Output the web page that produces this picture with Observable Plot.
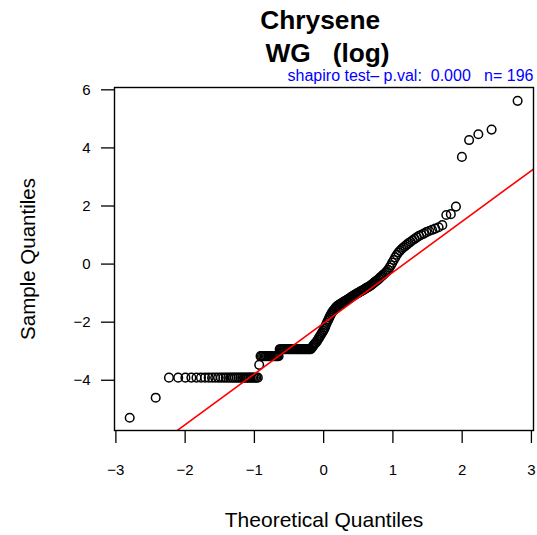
<!DOCTYPE html>
<html><head><meta charset="utf-8">
<script src="https://cdn.jsdelivr.net/npm/d3@7"></script>
<script src="https://cdn.jsdelivr.net/npm/@observablehq/plot@0.6"></script>
<style>
body{margin:0;background:#fff;}
svg{font-family:"Liberation Sans",Arial,Helvetica,sans-serif;}
</style>
</head><body><div id="chart"></div>
<script>
// ---- text ----
const titleLine1 = "Chrysene";
const titleLine2 = "WG\u00a0\u00a0\u00a0(log)";
const subtitle = "shapiro test\u2013 p.val:\u00a0\u00a00.000\u00a0\u00a0\u00a0n=\u00a0196";
const xLabel = "Theoretical Quantiles";
const yLabel = "Sample Quantiles";
const xTicks = [-3, -2, -1, 0, 1, 2, 3];
const yTicks = [-4, -2, 0, 2, 4, 6];

// ---- sorted sample values (log concentration), n = 196 ----
const sampleValues = [
  -5.29, -4.60,
  -3.91, -3.91, -3.91, -3.91, -3.91, -3.91, -3.91, -3.91, -3.91, -3.91, -3.91, -3.91, -3.91, -3.91, -3.91, -3.91,
  -3.91, -3.91, -3.91, -3.91, -3.91, -3.91, -3.91, -3.91, -3.91, -3.91, -3.91, -3.91, -3.91, -3.91, -3.91, -3.91,
  -3.47,
  -3.17, -3.17, -3.17, -3.17, -3.17, -3.17, -3.17, -3.17, -3.17, -3.17, -3.17, -3.17, -3.17, -3.17, -3.17, -3.17,
  -2.93, -2.93, -2.93, -2.93, -2.93, -2.93, -2.93, -2.93, -2.93, -2.93, -2.93, -2.93, -2.93, -2.93, -2.93, -2.93, -2.93,
  -2.93, -2.93, -2.93, -2.93, -2.93, -2.93, -2.93, -2.93, -2.93, -2.93, -2.93, -2.93, -2.93, -2.93, -2.93, -2.93,
  -2.88, -2.85, -2.80, -2.76, -2.72, -2.70, -2.65, -2.60, -2.55, -2.50, -2.45, -2.40, -2.35, -2.30, -2.24, -2.18,
  -2.10, -2.03, -1.96, -1.90, -1.83, -1.77, -1.71, -1.66, -1.62, -1.58, -1.54, -1.50, -1.47, -1.44, -1.42, -1.40,
  -1.38, -1.36, -1.34, -1.32, -1.30, -1.28, -1.26, -1.24, -1.22, -1.20, -1.18, -1.16, -1.13, -1.11, -1.09, -1.07,
  -1.05, -1.03, -1.01, -0.99, -0.97, -0.95, -0.93, -0.91, -0.89, -0.87, -0.84, -0.82, -0.80, -0.78, -0.76, -0.73,
  -0.70, -0.67, -0.63, -0.60, -0.57, -0.54, -0.50, -0.46, -0.42, -0.38, -0.34, -0.30, -0.25, -0.20, -0.12, -0.04,
  0.05, 0.14, 0.23, 0.32, 0.40, 0.46, 0.52, 0.57, 0.62, 0.67, 0.72, 0.77, 0.82, 0.87, 0.92, 0.97,
  1.01, 1.05, 1.10, 1.14, 1.18, 1.22, 1.27, 1.34, 1.69, 1.72, 1.98, 3.69, 4.27, 4.47, 4.63, 5.62
];

// qqline
const qqLineIntercept = [-2.03];
const qqLineSlope = [1.75];

// ---- normal quantile (Acklam) for theoretical quantiles, as qqnorm ----
function qnorm(p) {
  const a = [-3.969683028665376e+01, 2.209460984245205e+02, -2.759285104469687e+02, 1.383577518672690e+02, -3.066479806614716e+01, 2.506628277459239e+00];
  const b = [-5.447609879822406e+01, 1.615858368580409e+02, -1.556989798598866e+02, 6.680131188771972e+01, -1.328068155288572e+01];
  const c = [-7.784894002430293e-03, -3.223964580411365e-01, -2.400758277161838e+00, -2.549732539343734e+00, 4.374664141464968e+00, 2.938163982698783e+00];
  const d = [7.784695709041462e-03, 3.224671290700398e-01, 2.445134137142996e+00, 3.754408661907416e+00];
  const pl = 0.02425, ph = 1 - pl;
  let q, r;
  if (p < pl) {
    q = Math.sqrt(-2 * Math.log(p));
    return (((((c[0]*q+c[1])*q+c[2])*q+c[3])*q+c[4])*q+c[5]) / ((((d[0]*q+d[1])*q+d[2])*q+d[3])*q+1);
  } else if (p <= ph) {
    q = p - 0.5; r = q * q;
    return (((((a[0]*r+a[1])*r+a[2])*r+a[3])*r+a[4])*r+a[5])*q / (((((b[0]*r+b[1])*r+b[2])*r+b[3])*r+b[4])*r+1);
  } else {
    q = Math.sqrt(-2 * Math.log(1 - p));
    return -(((((c[0]*q+c[1])*q+c[2])*q+c[3])*q+c[4])*q+c[5]) / ((((d[0]*q+d[1])*q+d[2])*q+d[3])*q+1);
  }
}
const n = sampleValues.length;
const points = sampleValues.map((v, i) => ({x: qnorm((i + 1 - 0.5) / n), y: v}));

const xDomain = [-3.02, 3.03];
const yDomain = [-5.73, 6.08];
const lineData = xDomain.map(x => ({x, y: qqLineIntercept[0] + qqLineSlope[0] * x}));
const fmt = d => d < 0 ? "\u2212" + Math.abs(d) : String(d);

const chart = Plot.plot({
  width: 537,
  height: 535,
  marginLeft: 114,
  marginRight: 4,
  marginTop: 87,
  marginBottom: 105,
  x: {domain: xDomain},
  y: {domain: yDomain},
  style: {fontFamily: '"Liberation Sans", Arial, Helvetica, sans-serif', background: "white", color: "black", overflow: "visible"},
  marks: [
    Plot.axisX({ticks: xTicks, tickFormat: fmt, tickSize: 13, tickPadding: 21, fontSize: 15, label: null, strokeWidth: 1.3}),
    Plot.axisY({ticks: yTicks, tickFormat: fmt, tickSize: 13, tickPadding: 11, fontSize: 15, label: null, strokeWidth: 1.3}),
    Plot.dot(points, {x: "x", y: "y", r: 4.3, stroke: "black", strokeWidth: 1.5, fill: "none"}),
    Plot.line(lineData, {x: "x", y: "y", stroke: "#ff0000", strokeWidth: 1.6, clip: true}),
    Plot.frame({stroke: "black", strokeWidth: 1.4}),
    Plot.text([titleLine1], {text: d => d, frameAnchor: "top", lineAnchor: "bottom", dy: -58.5, dx: -3.8, fontSize: 26.3, fontWeight: "bold"}),
    Plot.text([titleLine2], {text: d => d, frameAnchor: "top", lineAnchor: "bottom", dy: -26, dx: 3.5, fontSize: 26.3, fontWeight: "bold"}),
    Plot.text([subtitle], {text: d => d, frameAnchor: "top-right", textAnchor: "end", lineAnchor: "bottom", dy: -6.5, fill: "#0000ff", fontSize: 16}),
    Plot.text([xLabel], {text: d => d, frameAnchor: "bottom", textAnchor: "middle", lineAnchor: "bottom", dy: 96, fontSize: 21}),
    Plot.text([yLabel], {text: d => d, frameAnchor: "left", textAnchor: "middle", rotate: -90, lineAnchor: "middle", dx: -86, fontSize: 20.5})
  ]
});
document.getElementById("chart").appendChild(chart);
</script>
</body></html>
